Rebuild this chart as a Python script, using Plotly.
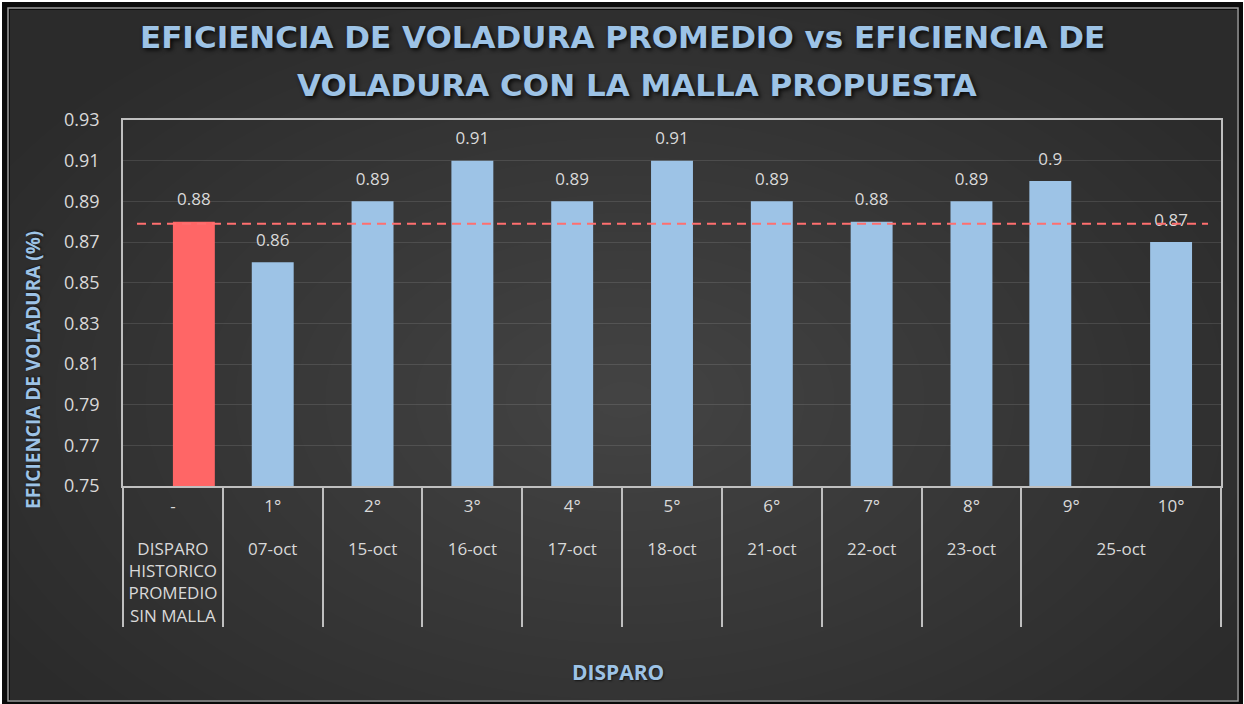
import plotly.graph_objects as go

# ---------------- data ----------------
fechas = ["DISPARO<br>HISTORICO<br>PROMEDIO<br>SIN MALLA", "07-oct", "15-oct", "16-oct", "17-oct",
          "18-oct", "21-oct", "22-oct", "23-oct", "25-oct", "25-oct"]
disparos = ["-", "1°", "2°", "3°", "4°", "5°", "6°", "7°", "8°", "9°", "10°"]
eficiencia = [0.88, 0.86, 0.89, 0.91, 0.89, 0.91, 0.89, 0.88, 0.89, 0.90, 0.87]
promedio_historico = 0.879
y_ticks = [0.75, 0.77, 0.79, 0.81, 0.83, 0.85, 0.87, 0.89, 0.91, 0.93]

titulo_1 = "EFICIENCIA DE VOLADURA PROMEDIO vs EFICIENCIA DE"
titulo_2 = "VOLADURA CON LA MALLA PROPUESTA"
titulo_y = "EFICIENCIA DE VOLADURA (%)"
titulo_x = "DISPARO"

# ---------------- styling / geometry ----------------
W, H = 1244, 704
L, R, T, B = 123, 1221, 120, 486
BAR_W = 0.42
TXT = "#d9d9d9"
BLUE_T = "#9dc3e6"
FONT = "Open Sans"
n = len(disparos)

# outer-level labels pushed one line down (as in the original two-row axis)
grupos = ["<br>" + f for f in fechas]

# in the original, the historical bar sits right of its slot and the 9th left of its slot
lado = {"-": 1, "9°": -1}


def px(x):
    return (x - L) / (R - L)


def py(y):
    return (B - y) / (B - T)


fig = go.Figure()

# invisible trace that fixes the category order on the axis
fig.add_trace(go.Scatter(x=[grupos, disparos], y=eficiencia, mode="none",
                         hoverinfo="skip", showlegend=False))


def add_bars(idx, color, offset=None):
    fig.add_trace(go.Bar(
        x=[[grupos[i] for i in idx], [disparos[i] for i in idx]],
        y=[eficiencia[i] for i in idx],
        width=BAR_W, offset=offset,
        marker=dict(color=color, line=dict(width=0)),
        hoverinfo="y", showlegend=False,
    ))


idx_hist = [i for i, d in enumerate(disparos) if lado.get(d) == 1]
idx_izq = [i for i, d in enumerate(disparos) if lado.get(d) == -1]
idx_centro = [i for i, d in enumerate(disparos) if d not in lado]
add_bars(idx_hist, "#ff6666", offset=0)
add_bars(idx_centro, "#9dc3e6")
add_bars(idx_izq, "#9dc3e6", offset=-BAR_W)

# data labels (on an overlaid numeric axis so they follow the bar offsets)
fig.add_trace(go.Scatter(
    x=[i + lado.get(d, 0) * BAR_W / 2 for i, d in enumerate(disparos)], y=eficiencia,
    xaxis="x2", mode="markers+text",
    text=[f"{v:g}" for v in eficiencia], textposition="top center",
    marker=dict(size=18, opacity=0), textfont=dict(size=17, color=TXT, family=FONT),
    hoverinfo="skip", showlegend=False, cliponaxis=False,
))

shapes = []
# background + soft radial glow
shapes.append(dict(type="rect", xref="paper", yref="paper", layer="below",
                   x0=px(0), x1=px(W), y0=py(0), y1=py(H), fillcolor="#ffffff", line=dict(width=0)))
shapes.append(dict(type="rect", xref="paper", yref="paper", layer="below",
                   x0=px(2), x1=px(W - 1), y0=py(2), y1=py(H), fillcolor="#0a0a0a", line=dict(width=0)))
shapes.append(dict(type="rect", xref="paper", yref="paper", layer="below",
                   x0=px(10), x1=px(W - 7), y0=py(10), y1=py(H - 4), fillcolor="#2b2b2b", line=dict(width=0)))
cx, cy = 625, 400
steps = 24
for i in range(steps):
    f = 1 - i / steps
    rx, ry = 720 * f, 450 * f
    shapes.append(dict(type="circle", xref="paper", yref="paper", layer="below",
                       x0=px(cx - rx), x1=px(cx + rx), y0=py(cy - ry), y1=py(cy + ry),
                       fillcolor="rgba(255,255,255,0.0095)", line=dict(width=0)))
# frame on top of glow
for (a, b, c, d) in [(2, W - 1, 2, 10), (2, W - 1, H - 4, H), (2, 10, 2, H), (W - 7, W - 1, 2, H)]:
    shapes.append(dict(type="rect", xref="paper", yref="paper", layer="below",
                       x0=px(a), x1=px(b), y0=py(c), y1=py(d), fillcolor="#0a0a0a", line=dict(width=0)))
shapes.append(dict(type="rect", xref="paper", yref="paper", layer="below",
                   x0=px(8), x1=px(W - 6), y0=py(8), y1=py(H - 3), fillcolor="rgba(0,0,0,0)",
                   line=dict(color="#9a9a9a", width=1.5)))
# historical average dashed line
shapes.append(dict(type="line", xref="paper", yref="y", layer="above",
                   x0=px(137), x1=px(1208), y0=promedio_historico, y1=promedio_historico,
                   line=dict(color="#ff6f6f", width=2, dash="9px,6px")))

title_font = dict(family="DejaVu Sans", size=31, color=BLUE_T, shadow="2px 2px 4px rgba(0,0,0,0.85)")
annotations = [
    dict(text=f"<b>{titulo_1}</b>", xref="paper", yref="paper", x=px(622), y=py(37),
         showarrow=False, xanchor="center", yanchor="middle", font=title_font),
    dict(text=f"<b>{titulo_2}</b>", xref="paper", yref="paper", x=px(637), y=py(85),
         showarrow=False, xanchor="center", yanchor="middle", font=title_font),
    dict(text=f"<b>{titulo_y}</b>", xref="paper", yref="paper", x=px(33), y=py(370),
         showarrow=False, xanchor="center", yanchor="middle", textangle=-90,
         font=dict(family=FONT, size=19, color=BLUE_T, shadow="1px 1px 2px rgba(0,0,0,0.6)")),
    dict(text=f"<b>{titulo_x}</b>", xref="paper", yref="paper", x=px(618), y=py(672),
         showarrow=False, xanchor="center", yanchor="middle",
         font=dict(family=FONT, size=21, color=BLUE_T, shadow="1px 1px 2px rgba(0,0,0,0.6)")),
]

fig.update_layout(
    width=W, height=H,
    margin=dict(l=L, r=W - R, t=T, b=H - B, pad=0),
    paper_bgcolor="#2b2b2b", plot_bgcolor="rgba(0,0,0,0)",
    barmode="overlay",
    shapes=shapes, annotations=annotations,
    font=dict(family=FONT, color=TXT),
    xaxis=dict(type="multicategory", range=[-0.5, n - 0.5], autorange=False,
               showline=True, linecolor="#bfbfbf", linewidth=1.5, mirror=True,
               showdividers=True, dividercolor="#bfbfbf", dividerwidth=1.5, ticks="",
               ticklabelstandoff=4,
               tickfont=dict(size=17, color=TXT, family=FONT), showgrid=False),
    xaxis2=dict(overlaying="x", range=[-0.5, n - 0.5], autorange=False, visible=False),
    yaxis=dict(range=[0.75, 0.93], tickvals=y_ticks, tickformat=".2f", showgrid=True,
               gridcolor="rgba(255,255,255,0.11)", gridwidth=1, showline=True, linecolor="#bfbfbf",
               linewidth=1.5, mirror=True, ticks="", ticklabelstandoff=18, zeroline=False,
               tickfont=dict(size=18, color=TXT, family=FONT)),
)

fig.write_html("out.html", config={"displayModeBar": False},
               post_script="document.body.style.margin='0';document.body.style.padding='0';")
